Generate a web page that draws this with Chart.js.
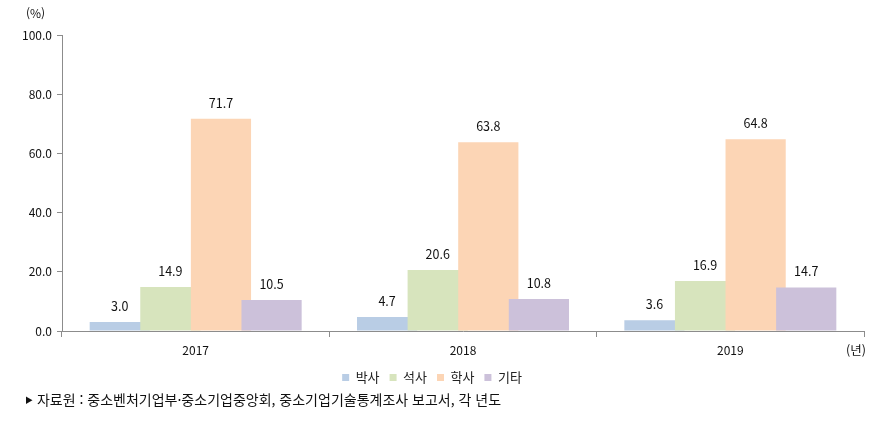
<!DOCTYPE html>
<html lang="ko">
<head>
<meta charset="utf-8">
<script src="https://cdn.jsdelivr.net/npm/chart.js@4/dist/chart.umd.min.js"></script>
<style>
  html,body{margin:0;padding:0;background:#fff;}
  #wrap{position:relative;width:893px;height:423px;}
  #c{position:absolute;left:0;top:0;}
  .note{position:absolute;font-family:"Noto Sans CJK KR","Noto Sans",sans-serif;color:#111;white-space:nowrap;}
</style>
</head>
<body>
<div id="wrap">
  <canvas id="c" width="893" height="423"></canvas>
  <div class="note" style="left:26px;top:4px;font-size:12px;">(%)</div>
  <div class="note" style="left:846px;top:340px;font-size:12.5px;">(년)</div>
  <div class="note" style="left:25px;top:389px;font-size:14px;"><span style="font-size:8px;vertical-align:2px;">▶</span> 자료원 : 중소벤처기업부·중소기업중앙회, 중소기업기술통계조사 보고서, 각 년도</div>
</div>
<script>
const categories = ['2017', '2018', '2019'];
const seriesNames = ['박사', '석사', '학사', '기타'];
const phd = [3.0, 4.7, 3.6];
const master = [14.9, 20.6, 16.9];
const bachelor = [71.7, 63.8, 64.8];
const other = [10.5, 10.8, 14.7];
const colors = ['#B9CDE5', '#D7E4BD', '#FCD5B5', '#CCC1DA'];
const yTicks = [0, 20, 40, 60, 80, 100];

const FONT = '"Noto Sans CJK KR","Noto Sans",sans-serif';

const forwardDraw = {
  id: 'forwardDraw',
  beforeDatasetsDraw(chart) {
    const metas = chart.getSortedVisibleDatasetMetas();
    for (const m of metas) m.controller.draw();
    const ctx = chart.ctx;
    ctx.save();
    ctx.font = '12.5px ' + FONT;
    ctx.fillStyle = '#111';
    ctx.textAlign = 'center';
    ctx.textBaseline = 'middle';
    metas.forEach(m => {
      const ds = chart.data.datasets[m.index];
      m.data.forEach((bar, i) => {
        ctx.fillText(ds.data[i].toFixed(1), bar.x, bar.y - 16);
      });
    });
    ctx.restore();
    return false;
  }
};

const data = {
  labels: categories,
  datasets: [phd, master, bachelor, other].map((arr, i) => ({
    label: seriesNames[i],
    data: arr,
    backgroundColor: colors[i],
    borderWidth: 0,
    categoryPercentage: 0.757,
    barPercentage: 1.19
  }))
};

new Chart(document.getElementById('c'), {
  type: 'bar',
  data,
  plugins: [forwardDraw],
  options: {
    responsive: false,
    animation: false,
    layout: { padding: { left: 0, top: 35, right: 29, bottom: 29 } },
    plugins: {
      tooltip: { enabled: false },
      legend: {
        position: 'bottom',
        labels: {
          boxWidth: 7, boxHeight: 7,
          padding: 10,
          color: '#222',
          font: { family: FONT, size: 13 }
        }
      }
    },
    scales: {
      x: {
        afterFit(s) { s.height = 30; },
        grid: { offset: true, drawOnChartArea: false, drawTicks: true, tickLength: 6, color: '#8c8c8c' },
        border: { color: '#8c8c8c', width: 1 },
        ticks: { color: '#111', font: { family: FONT, size: 12 }, padding: 6 }
      },
      y: {
        min: 0, max: 100,
        afterFit(s) { s.width = 62; },
        afterBuildTicks(s) { s.ticks = yTicks.map(v => ({ value: v })); },
        grid: { drawOnChartArea: false, drawTicks: true, tickLength: 5, color: '#8c8c8c' },
        border: { color: '#8c8c8c', width: 1 },
        ticks: {
          color: '#111', font: { family: FONT, size: 12 }, padding: 5,
          callback: v => Number(v).toFixed(1)
        }
      }
    }
  }
});
</script>
</body>
</html>
